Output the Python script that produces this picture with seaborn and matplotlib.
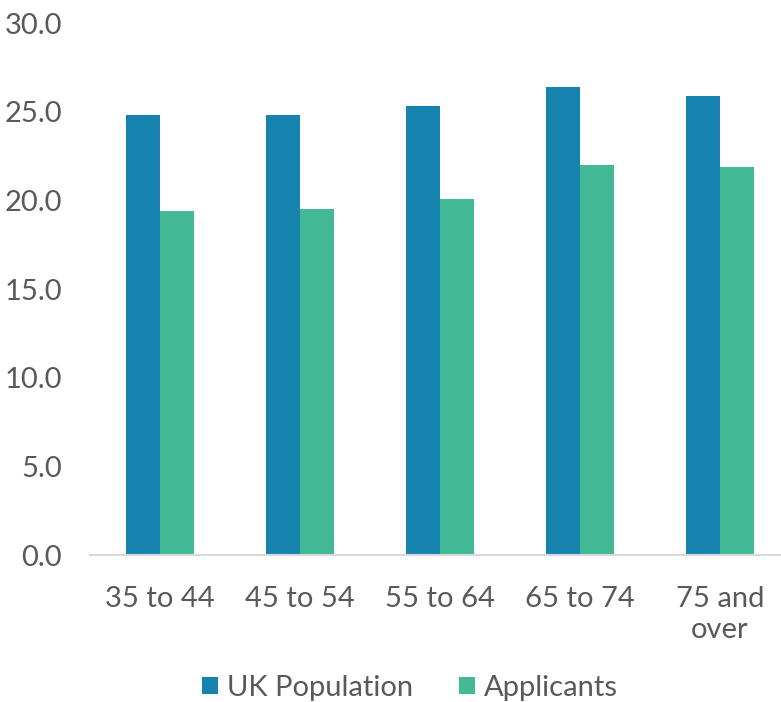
import matplotlib
matplotlib.use("Agg")
import matplotlib.pyplot as plt
import seaborn as sns
import pandas as pd
from matplotlib.patches import Patch

categories = ["35 to 44", "45 to 54", "55 to 64", "65 to 74", "75 and\nover"]
uk_population = [24.8, 24.8, 25.3, 26.4, 25.9]
applicants = [19.4, 19.5, 20.1, 22.0, 21.9]
series_names = ["UK Population", "Applicants"]
yticks = [0, 5, 10, 15, 20, 25, 30]

colors = ["#1682AE", "#43B995"]
text_color = "#595959"

df = pd.DataFrame({
    "Age": categories * 2,
    "Value": uk_population + applicants,
    "Series": [series_names[0]] * len(categories) + [series_names[1]] * len(categories),
})

sns.set_theme(style="white")
plt.rcParams["font.family"] = ["Lato", "DejaVu Sans"]

fig = plt.figure(figsize=(7.81, 7.02), dpi=100)
ax = fig.add_axes([90 / 781, 147 / 702, 1 - 90 / 781, (555 - 23) / 702])

sns.barplot(data=df, x="Age", y="Value", hue="Series", palette=colors,
            width=0.48, ax=ax, saturation=1, legend=False, linewidth=0)

ax.set_ylim(0, 30)
ax.set_yticks(yticks)
ax.set_yticklabels([f"{v:.1f}" for v in yticks])
ax.set_xlim(-0.5, 4.5 - 9 / 140.5)
ax.set_xlabel("")
ax.set_ylabel("")

for s in ["top", "right", "left"]:
    ax.spines[s].set_visible(False)
ax.spines["bottom"].set_color("#D9D9D9")
ax.spines["bottom"].set_linewidth(1.5)

ax.tick_params(axis="y", length=0, pad=20, labelsize=21, labelcolor=text_color)
ax.tick_params(axis="x", length=0, pad=22, labelsize=21, labelcolor=text_color)
for lbl in ax.get_xticklabels():
    lbl.set_linespacing(1.25)
    lbl.set_verticalalignment("top")

handles = [Patch(facecolor=c, edgecolor="none") for c in colors]
fig.legend(handles, series_names, loc="center", bbox_to_anchor=(410 / 781, 14 / 702),
           ncol=2, frameon=False, fontsize=21, labelcolor=text_color,
           handlelength=0.55, handleheight=0.55, handletextpad=0.3, columnspacing=1.6)

fig.savefig("out.png", dpi=100, facecolor="white")
